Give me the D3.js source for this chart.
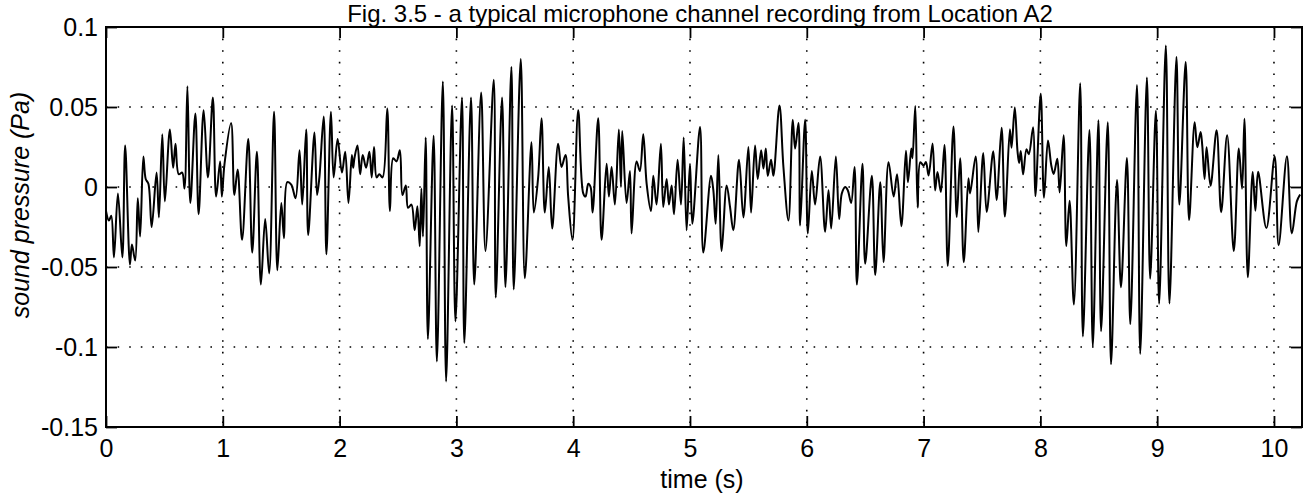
<!DOCTYPE html>
<html><head><meta charset="utf-8">
<script src="https://cdn.jsdelivr.net/npm/d3@7"></script>
<style>
body{margin:0;background:#fff}
svg{display:block}
text{font-family:Arial,"Liberation Sans",Helvetica,sans-serif;fill:#000}
</style>
</head><body>
<svg id="chart" width="1304" height="498"></svg>
<script>
// ---- data (time in s, sound pressure in Pa) ----
const trace0 = [[0.000,-0.015],[0.025,-0.021],[0.045,-0.018],[0.068,-0.044],[0.102,-0.004],[0.140,-0.044],[0.164,0.026],[0.205,-0.0485],[0.222,-0.036],[0.250,-0.046],[0.272,-0.007],[0.292,-0.031],[0.320,0.019],[0.340,0.005],[0.363,0.002],[0.391,-0.025],[0.433,0.009],[0.453,-0.019],[0.482,0.033],[0.504,-0.009],[0.547,0.036],[0.575,0.012],[0.595,0.027],[0.623,0.008],[0.652,0.009],[0.672,-0.001],[0.697,0.063],[0.722,-0.010],[0.765,0.046],[0.793,-0.017],[0.836,0.048],[0.873,0.006],[0.915,0.056],[0.943,-0.006],[0.977,0.016],[0.992,-0.006]];
const trace1 = [[1.014,0.014],[1.071,0.040],[1.099,-0.005],[1.127,0.011],[1.165,-0.033],[1.218,0.030],[1.252,-0.041],[1.292,0.022],[1.326,-0.061],[1.363,-0.020],[1.397,-0.054],[1.439,0.047],[1.467,-0.052],[1.501,-0.010],[1.524,-0.032],[1.552,0.003],[1.586,0.0015],[1.623,-0.007],[1.657,0.023],[1.680,-0.011],[1.714,0.036],[1.731,-0.030],[1.785,0.034],[1.807,-0.005],[1.827,0.006],[1.864,0.044],[1.887,-0.042],[1.926,0.047],[1.949,0.006],[1.983,0.030]];
const trace2 = [[2.020,0.009],[2.048,0.022],[2.076,-0.010],[2.105,0.020],[2.116,0.012],[2.127,0.018],[2.153,0.026],[2.176,0.008],[2.198,0.020],[2.227,0.012],[2.255,0.022],[2.275,0.006],[2.295,0.025],[2.317,0.006],[2.340,0.008],[2.368,0.006],[2.408,0.049],[2.431,-0.015],[2.459,0.018],[2.487,0.016],[2.516,0.023],[2.538,-0.005],[2.567,0.001],[2.586,-0.013],[2.615,-0.011],[2.643,-0.027],[2.666,-0.012],[2.686,-0.037],[2.700,-0.001],[2.714,-0.031],[2.737,0.031],[2.756,-0.095],[2.805,0.032],[2.833,-0.109],[2.884,0.066],[2.912,-0.1215],[2.963,0.051],[2.992,-0.084]];
const trace3 = [[3.048,0.056],[3.068,-0.0975],[3.125,0.056],[3.153,-0.061],[3.212,0.059],[3.249,-0.040],[3.320,0.067],[3.337,-0.069],[3.391,0.056],[3.420,-0.0625],[3.471,0.075],[3.491,-0.064],[3.551,0.080],[3.586,-0.057],[3.643,0.028],[3.663,-0.016],[3.700,0.006],[3.729,0.043],[3.757,-0.016],[3.791,0.0125],[3.820,-0.026],[3.871,0.027],[3.900,0.0125],[3.934,0.020],[3.957,-0.006],[3.994,-0.033]];
const trace4 = [[4.043,0.048],[4.086,-0.004],[4.106,-0.006],[4.129,0.002],[4.149,0.000],[4.166,-0.016],[4.214,0.043],[4.243,-0.033],[4.286,0.0146],[4.306,-0.006],[4.329,0.0125],[4.357,-0.011],[4.391,0.036],[4.409,0.000],[4.420,0.035],[4.457,-0.010],[4.486,0.010],[4.500,-0.029],[4.543,0.016],[4.571,0.010],[4.600,0.033],[4.629,0.002],[4.666,-0.015],[4.686,0.007],[4.714,-0.011],[4.751,0.027],[4.771,-0.0125],[4.800,0.005],[4.820,-0.011],[4.843,0.001],[4.863,-0.017],[4.894,0.017],[4.923,-0.011],[4.946,0.031],[4.971,-0.027],[5.000,0.0146]];
const trace5 = [[5.020,-0.023],[5.086,0.0375],[5.114,-0.041],[5.180,0.007],[5.200,-0.002],[5.220,-0.023],[5.243,0.020],[5.271,-0.040],[5.314,0.001],[5.343,-0.0125],[5.371,-0.027],[5.420,0.017],[5.457,-0.019],[5.500,0.025],[5.523,-0.016],[5.557,0.026],[5.580,0.005],[5.609,0.023],[5.629,0.0115],[5.649,0.024],[5.666,0.007],[5.694,0.017],[5.714,0.007],[5.766,0.051],[5.800,0.0125],[5.843,-0.021],[5.880,0.042],[5.900,0.024],[5.929,0.040],[5.943,-0.024],[5.986,0.042]];
const trace6 = [[6.009,-0.029],[6.043,0.010],[6.071,-0.011],[6.114,0.019],[6.157,-0.028],[6.186,-0.002],[6.209,-0.026],[6.249,0.019],[6.277,-0.020],[6.300,-0.004],[6.329,0.000],[6.351,-0.002],[6.380,-0.010],[6.409,0.0125],[6.429,-0.061],[6.477,0.0146],[6.500,-0.048],[6.557,0.007],[6.586,-0.055],[6.629,0.003],[6.657,-0.047],[6.700,0.0155],[6.744,-0.006],[6.773,0.008],[6.810,-0.0245],[6.849,0.0227],[6.866,0.003],[6.895,0.024],[6.905,0.018],[6.929,0.0507],[6.949,-0.0128],[6.972,0.0155]];
const trace7 = [[7.000,0.0134],[7.020,0.0156],[7.043,0.0072],[7.077,0.0272],[7.099,-0.0022],[7.119,0.0094],[7.148,-0.0032],[7.179,0.0262],[7.207,-0.0493],[7.256,0.0378],[7.284,-0.0188],[7.313,0.0179],[7.344,-0.047],[7.384,0.0054],[7.398,-0.004],[7.446,0.0191],[7.469,-0.0281],[7.511,0.0212],[7.540,-0.0156],[7.597,0.0223],[7.625,-0.0081],[7.668,0.0371],[7.696,-0.0185],[7.739,0.0361],[7.753,0.0245],[7.781,0.0497],[7.804,0.0225],[7.818,0.015],[7.832,0.0225],[7.852,0.0079],[7.881,0.0236],[7.901,0.0205],[7.938,0.0373],[7.957,-0.0057]];
const trace8 = [[8.003,0.0583],[8.031,-0.0067],[8.065,0.029],[8.094,0.0133],[8.114,0.0081],[8.145,0.0176],[8.165,-0.0034],[8.199,0.0323],[8.222,-0.0369],[8.250,-0.0086],[8.287,-0.0735],[8.341,0.0649],[8.364,-0.0934],[8.420,0.0356],[8.449,-0.0996],[8.497,0.0417],[8.520,-0.0901],[8.577,0.0404],[8.605,-0.1108],[8.656,0.0044],[8.690,-0.0627],[8.741,0.0181],[8.770,-0.0857],[8.827,0.0637],[8.855,-0.1043],[8.912,0.0685],[8.940,-0.0573],[8.989,0.0476]];
const trace9 = [[9.017,-0.0729],[9.074,0.0885],[9.105,-0.0728],[9.165,0.0813],[9.190,-0.011],[9.244,0.0782],[9.273,-0.0207],[9.321,0.0405],[9.344,0.0248],[9.372,0.0343],[9.386,0.0259],[9.406,0.005],[9.423,0.0249],[9.457,0.0008],[9.509,0.0355],[9.548,-0.0158],[9.599,0.0324],[9.656,-0.040],[9.699,0.0241],[9.727,-0.0011],[9.747,0.0426],[9.776,-0.0564],[9.818,0.0093],[9.841,-0.0148],[9.864,0.0095],[9.935,-0.0257],[10.006,0.0191],[10.040,-0.0364],[10.111,0.0192],[10.153,-0.029],[10.196,-0.009],[10.224,-0.0047]];

const xTicks = [0,1,2,3,4,5,6,7,8,9,10];
const yTicks = [-0.15,-0.1,-0.05,0,0.05,0.1];
const yTickLabels = ["-0.15","-0.1","-0.05","0","0.05","0.1"];
const xDomain = [0,10.24];
const yDomain = [-0.15,0.1];
const titleText = "Fig. 3.5 - a typical microphone channel recording from Location A2";
const xLabelText = "time (s)";
const yLabelText = "sound pressure (Pa)";

// ---- drawing ----
const samples = [].concat(trace0,trace1,trace2,trace3,trace4,trace5,trace6,trace7,trace8,trace9);
const L = 106, R = 1302, T = 27, B = 427;
const svg = d3.select("#chart");
const x = d3.scaleLinear().domain(xDomain).range([L,R]);
const y = d3.scaleLinear().domain(yDomain).range([B,T]);
const FS = 25;

// grid
const grid = svg.append("g").attr("stroke","#000").attr("stroke-width",1.6).attr("stroke-dasharray","1.6,10");
grid.selectAll("line.vx").data(xTicks.filter(d=>d>xDomain[0] && d<xDomain[1])).enter().append("line")
  .attr("x1",d=>x(d)).attr("x2",d=>x(d)).attr("y1",T).attr("y2",B);
grid.selectAll("line.hy").data(yTicks.filter(d=>d>yDomain[0] && d<yDomain[1])).enter().append("line")
  .attr("x1",L).attr("x2",R).attr("y1",d=>y(d)).attr("y2",d=>y(d));

// trace
svg.append("path").datum(samples)
  .attr("fill","none").attr("stroke","#000").attr("stroke-width",2).attr("stroke-linejoin","round")
  .attr("d", d3.line().curve(d3.curveCatmullRom.alpha(0.5)).x(d=>x(d[0])).y(d=>y(d[1])));

// axes
function styleAxis(g){
  g.select(".domain").remove();
  g.selectAll(".tick line").attr("stroke","#000").attr("stroke-width",1.8);
  g.selectAll(".tick text").style("font-size",FS+"px").attr("fill","#000");
}
svg.append("g").attr("transform",`translate(0,${B})`)
  .call(d3.axisBottom(x).tickValues(xTicks).tickFormat(d3.format("d")).tickSizeInner(-11).tickSizeOuter(0).tickPadding(12))
  .call(styleAxis);
svg.append("g").attr("transform",`translate(0,${T})`)
  .call(d3.axisTop(x).tickValues(xTicks).tickFormat("").tickSizeInner(-11).tickSizeOuter(0))
  .call(styleAxis);
svg.append("g").attr("transform",`translate(${L},0)`)
  .call(d3.axisLeft(y).tickValues(yTicks).tickFormat((d,i)=>yTickLabels[i]).tickSizeInner(-11).tickSizeOuter(0).tickPadding(8))
  .call(styleAxis);
svg.append("g").attr("transform",`translate(${R},0)`)
  .call(d3.axisRight(y).tickValues(yTicks).tickFormat("").tickSizeInner(-11).tickSizeOuter(0))
  .call(styleAxis);

// frame
svg.append("rect").attr("x",L).attr("y",T).attr("width",R-L).attr("height",B-T)
  .attr("fill","none").attr("stroke","#000").attr("stroke-width",2);

// texts
svg.append("text").attr("x",700).attr("y",22).attr("text-anchor","middle")
  .style("font-size","24px").text(titleText);
svg.append("text").attr("x",702).attr("y",488).attr("text-anchor","middle")
  .style("font-size",FS+"px").text(xLabelText);
svg.append("text").attr("transform","translate(29,205) rotate(-90)").attr("text-anchor","middle")
  .style("font-size",FS+"px").style("font-style","italic").text(yLabelText);
</script>
</body></html>
